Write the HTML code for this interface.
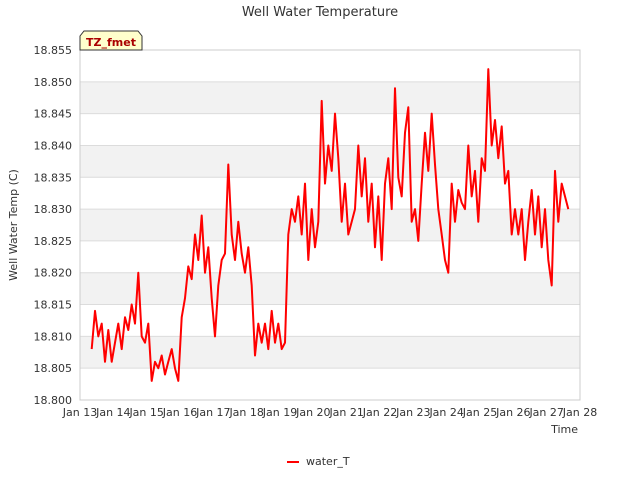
<!DOCTYPE html>
<html><head><meta charset="utf-8"><style>
body{margin:0;background:#fff;font-family:"Liberation Sans",sans-serif;}
svg text{font-family:"DejaVu Sans","Liberation Sans",sans-serif;}
</style></head><body>
<svg id="chart" width="640" height="480">
<text x="320" y="16" text-anchor="middle" font-size="13" fill="#333">Well Water Temperature</text>
<g id="grid"></g>
<rect x="80" y="50" width="500" height="350" fill="none" stroke="#ccc"/>
<g id="yticks"></g><g id="xticks"></g>
<path id="line" fill="none" stroke="#ff0000" stroke-width="2" stroke-linejoin="round"/>
<text transform="translate(17,225) rotate(-90)" text-anchor="middle" font-size="11" fill="#333">Well Water Temp (C)</text>
<text x="578" y="433" text-anchor="end" font-size="11" fill="#333">Time</text>
<g>
<path d="M80,50 L80,36 L84,31 L138,31 L142,36 L142,50 Z" fill="#ffffcc" stroke="#333"/>
<text x="111" y="46" text-anchor="middle" font-size="11" font-weight="bold" fill="#aa0000">TZ_fmet</text>
</g>
<g>
<line x1="287" y1="462" x2="299" y2="462" stroke="#ff0000" stroke-width="2"/>
<text x="306" y="465" font-size="11" fill="#333">water_T</text>
</g>
</svg>
<script>
const yTicks=[18.800,18.805,18.810,18.815,18.820,18.825,18.830,18.835,18.840,18.845,18.850,18.855];
const xTickLabels=["Jan 13","Jan 14","Jan 15","Jan 16","Jan 17","Jan 18","Jan 19","Jan 20","Jan 21","Jan 22","Jan 23","Jan 24","Jan 25","Jan 26","Jan 27","Jan 28"];
const xTickDays=[13,14,15,16,17,18,19,20,21,22,23,24,25,26,27,28];
const startDay=13.35, stepDay=0.1;
const temps=[18.808,18.814,18.810,18.812,18.806,18.811,18.806,
18.809,18.812,18.808,18.813,18.811,18.815,18.812,18.820,18.810,18.809,
18.812,18.803,18.806,18.805,18.807,18.804,18.806,18.808,18.805,18.803,
18.813,18.816,18.821,18.819,18.826,18.822,18.829,18.820,18.824,18.816,
18.810,18.818,18.822,18.823,18.837,18.826,18.822,18.828,18.823,18.820,
18.824,18.818,18.807,18.812,18.809,18.812,18.808,18.814,18.809,18.812,
18.808,18.809,18.826,18.830,18.828,18.832,18.826,18.834,18.822,18.830,
18.824,18.828,18.847,18.834,18.840,18.836,18.845,18.838,18.828,18.834,
18.826,18.828,18.830,18.840,18.832,18.838,18.828,18.834,18.824,18.832,
18.822,18.834,18.838,18.830,18.849,18.835,18.832,18.842,18.846,18.828,
18.830,18.825,18.834,18.842,18.836,18.845,18.837,18.830,18.826,18.822,
18.820,18.834,18.828,18.833,18.831,18.830,18.840,18.832,18.836,18.828,
18.838,18.836,18.852,18.840,18.844,18.838,18.843,18.834,18.836,18.826,
18.830,18.826,18.830,18.822,18.828,18.833,18.826,18.832,18.824,18.830,
18.822,18.818,18.836,18.828,18.834,18.832,18.830];
const X0=80,X1=580,Y0=400,Y1=50;
const xs=d=>X0+(d-13)/(28-13)*(X1-X0);
const ys=v=>Y0-(v-18.800)/(18.855-18.800)*(Y0-Y1);
const NS="http://www.w3.org/2000/svg";
const grid=document.getElementById('grid'),yt=document.getElementById('yticks'),xt=document.getElementById('xticks');
for(let i=0;i<yTicks.length-1;i++){
 if(i%2===1){const r=document.createElementNS(NS,'rect');
 
 
 r.setAttribute('x',X0);r.setAttribute('width',X1-X0);
 r.setAttribute('y',ys(yTicks[i+1]));r.setAttribute('height',ys(yTicks[i])-ys(yTicks[i+1]));
 r.setAttribute('fill','#f2f2f2');grid.appendChild(r);}
}
yTicks.forEach(v=>{
 const l=document.createElementNS(NS,'line');
 
 
 l.setAttribute('x1',X0);l.setAttribute('x2',X1);l.setAttribute('y1',ys(v));l.setAttribute('y2',ys(v));
 l.setAttribute('stroke','#dcdcdc');grid.appendChild(l);
 const t=document.createElementNS(NS,'text');
 
 
 t.setAttribute('x',X0-8);t.setAttribute('y',ys(v)+4);t.setAttribute('text-anchor','end');
 t.setAttribute('font-size','11');t.setAttribute('fill','#333');t.textContent=v.toFixed(3);yt.appendChild(t);
});
xTickDays.forEach((d,i)=>{
 const t=document.createElementNS(NS,'text');
 
 
 t.setAttribute('x',xs(d));t.setAttribute('y',416);t.setAttribute('text-anchor','middle');
 t.setAttribute('font-size','11');t.setAttribute('fill','#333');t.textContent=xTickLabels[i];xt.appendChild(t);
});
document.getElementById('line').setAttribute('d',temps.map((v,i)=>(i?'L':'M')+xs(startDay+i*stepDay).toFixed(1)+','+ys(v).toFixed(1)).join(''));
</script>
</body></html>
